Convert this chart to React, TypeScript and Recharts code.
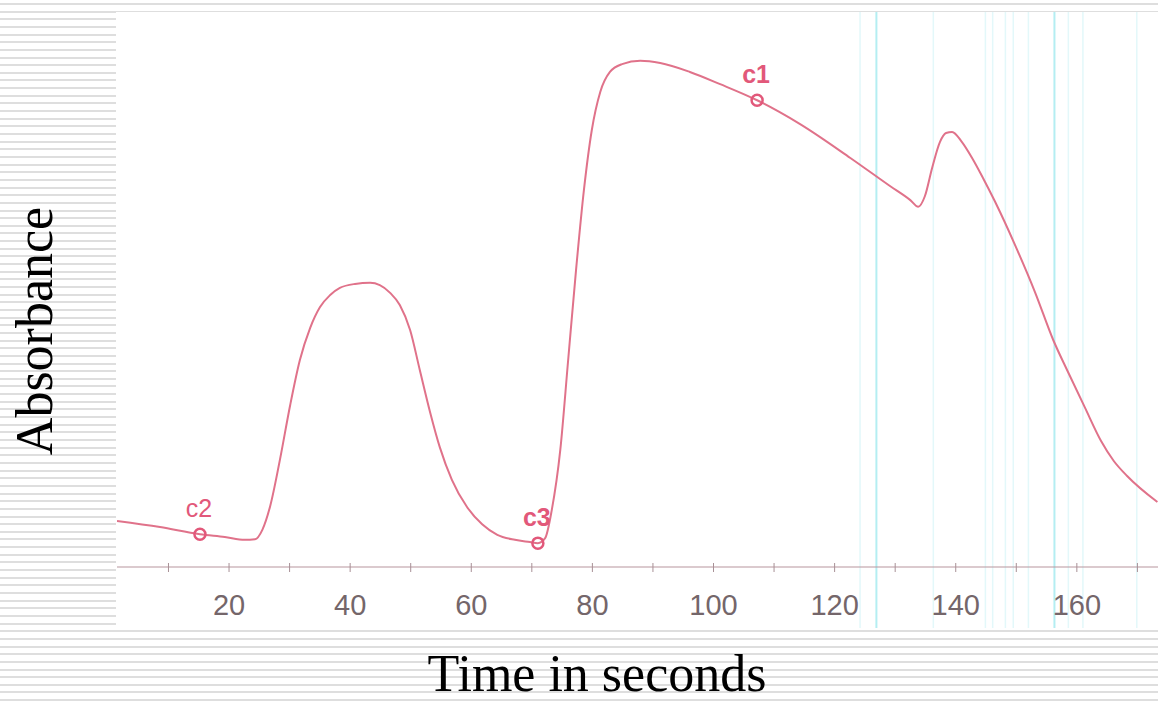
import React from 'react';
import { ComposedChart, Line, Scatter, XAxis, YAxis, ReferenceLine } from 'recharts';

// time (s) of each traced point
const times = [
  1.5, 8.6, 15.2, 19.3, 22.6, 24.3, 25.5, 26.8, 28.4, 30.1, 31.7, 33.4, 35.0, 36.7, 38.3,
  40.8, 43.3, 44.9, 46.6, 48.2, 49.9, 51.5, 53.2, 54.8, 56.8, 59.3, 61.8, 64.3, 67.2,
  69.7, 71.0, 72.2, 73.3, 74.7, 76.0, 77.3, 78.6, 79.9, 81.3, 82.9, 84.9, 87.9, 91.2, 96.1,
  101.1, 107.2, 114.3, 122.6, 129.2, 132.5, 133.8, 134.9, 136.1, 137.4, 138.4, 139.4, 141.0,
  142.7, 144.5, 146.5, 149.8, 153.1, 156.1, 158.6, 161.3, 164.0, 166.1, 168.3, 173.3,
];

// absorbance (arbitrary units, 0..1)
const absorbance = [
  0.083, 0.072, 0.059, 0.054, 0.049, 0.05, 0.067, 0.11, 0.193, 0.292, 0.373, 0.431, 0.468,
  0.49, 0.503, 0.51, 0.512, 0.508, 0.494, 0.472, 0.427, 0.355, 0.279, 0.216, 0.157,
  0.108, 0.077, 0.058, 0.049, 0.045, 0.043, 0.052, 0.103, 0.211, 0.373, 0.535, 0.679, 0.787,
  0.856, 0.892, 0.906, 0.912, 0.908, 0.892, 0.87, 0.841, 0.798, 0.737, 0.686, 0.661, 0.649,
  0.668, 0.719, 0.766, 0.782, 0.784, 0.766, 0.737, 0.701, 0.658, 0.58, 0.495, 0.409, 0.35,
  0.288, 0.227, 0.191, 0.164, 0.117,
];

// cursors placed on the trace
const cursorNames = ['c2', 'c3', 'c1'];
const cursorTimes = [15.2, 71.0, 107.2];
const cursorValues = [0.059, 0.043, 0.841];

// vertical scan artefacts
const brightScanLines = [126.9, 156.3];
const faintScanLines = [124.2, 136.3, 144.9, 146.1, 148.2, 149.5, 152.0, 158.6, 161.0, 169.9];

const xTicks = [10, 20, 30, 40, 50, 60, 70, 80, 90, 100, 110, 120, 130, 140, 150, 160, 170];

const trace = times.map((t, i) => ({ t, a: absorbance[i] }));
const cursors = cursorNames.map((name, i) => ({ name, t: cursorTimes[i], a: cursorValues[i] }));

const PINK = '#e0728a';
const MARK = '#e2587a';

const TimeTick = (props: any) => {
  const { x, y, payload } = props;
  const v = payload.value;
  return (
    <g>
      <line x1={x} x2={x} y1={y - 4} y2={y + 5} stroke="#a89096" strokeWidth={1} />
      {v % 20 === 0 && (
        <text
          x={x}
          y={y + 48}
          textAnchor="middle"
          fill="#74666a"
          fontSize={29}
          fontFamily="'Liberation Sans', Arial, sans-serif"
        >
          {v}
        </text>
      )}
    </g>
  );
};

const CursorMark = (props: any) => {
  const { cx, cy, payload } = props;
  const heavy = payload.name !== 'c2';
  return (
    <g>
      <circle cx={cx} cy={cy} r={5.5} fill="none" stroke={MARK} strokeWidth={2.5} />
      <text
        x={cx - 1}
        y={cy - 17}
        textAnchor="middle"
        fill={MARK}
        fontSize={25}
        fontWeight={heavy ? 'bold' : 'normal'}
        fontFamily="'Liberation Sans', Arial, sans-serif"
      >
        {payload.name}
      </text>
    </g>
  );
};

const scanShape = (color: string, width: number) => (p: any) => {
  const top = Math.min(p.y1, p.y2);
  const bottom = Math.max(p.y1, p.y2) + 61;
  return <line x1={p.x1} x2={p.x2} y1={top} y2={bottom} stroke={color} strokeWidth={width} />;
};

const App: React.FC = () => {
  return (
    <div
      style={{
        position: 'absolute',
        left: 0,
        top: 0,
        width: 1158,
        height: 703,
        overflow: 'hidden',
        background:
          'repeating-linear-gradient(to bottom, #ffffff 0px, #ffffff 3px, #dedede 3px, #dedede 5px, #ffffff 5px, #ffffff 7.65px)',
      }}
    >
      <div style={{ position: 'absolute', left: 116, top: 12, width: 1042, height: 617, background: '#fff' }} />

      <div style={{ position: 'absolute', left: 0, top: 0 }}>
        <ComposedChart width={1158} height={703} margin={{ top: 12, right: 0, bottom: 70, left: 117 }}>
          <XAxis
            dataKey="t"
            type="number"
            domain={[1.5, 173.4]}
            allowDataOverflow
            ticks={xTicks}
            interval={0}
            tickLine={false}
            tickSize={0}
            tickMargin={0}
            height={66}
            axisLine={{ stroke: '#b8959e', strokeWidth: 1.2 }}
            tick={<TimeTick />}
          />
          <YAxis type="number" domain={[0, 1]} hide />
          {faintScanLines.map((t) => (
            <ReferenceLine key={'f' + t} x={t} shape={scanShape('#e3f8fa', 1.5)} />
          ))}
          {brightScanLines.map((t) => (
            <ReferenceLine key={'b' + t} x={t} shape={scanShape('#b4eef2', 2)} />
          ))}
          <Line
            data={trace}
            dataKey="a"
            type="monotone"
            stroke={PINK}
            strokeWidth={2}
            dot={false}
            activeDot={false}
            isAnimationActive={false}
          />
          <Scatter data={cursors} dataKey="a" shape={<CursorMark />} isAnimationActive={false} />
        </ComposedChart>
      </div>

      <svg width={1158} height={703} style={{ position: 'absolute', left: 0, top: 0, pointerEvents: 'none' }}>
        <text
          x={597}
          y={691}
          textAnchor="middle"
          fontSize={52}
          fill="#000"
          fontFamily="'Liberation Serif', 'Times New Roman', serif"
        >
          Time in seconds
        </text>
        <text
          x={52}
          y={331}
          textAnchor="middle"
          transform="rotate(-90 52 331)"
          fontSize={52}
          fill="#000"
          fontFamily="'Liberation Serif', 'Times New Roman', serif"
        >
          Absorbance
        </text>
      </svg>
    </div>
  );
};

export default App;
